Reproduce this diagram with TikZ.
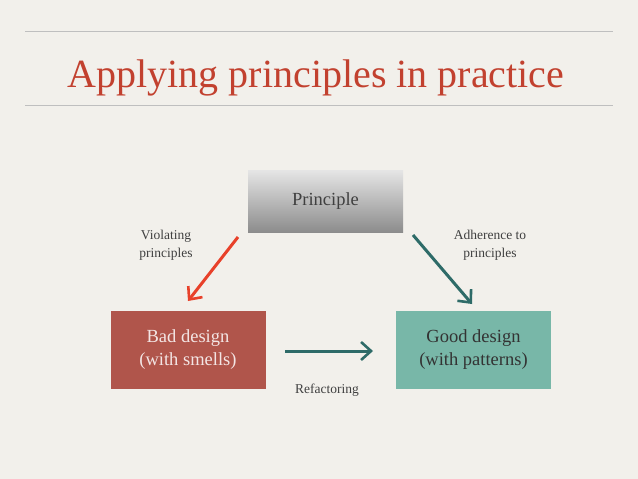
\documentclass[tikz,border=0pt]{standalone}
\usepackage{fontspec}
\setmainfont{Liberation Serif}
\usetikzlibrary{arrows.meta}
\definecolor{bg}{HTML}{F2F0EB}
\definecolor{titlered}{HTML}{C2412F}
\definecolor{badc}{HTML}{B0554B}
\definecolor{goodc}{HTML}{78B7A8}
\definecolor{arrred}{HTML}{E8412A}
\definecolor{arrteal}{HTML}{2E6B68}
\begin{document}
\begin{tikzpicture}[x=1pt,y=-1pt,
  box/.style={minimum width=155pt,minimum height=78pt,inner sep=0,align=center,font=\fontsize{18.5}{23}\selectfont},
  lbl/.style={align=center,text=black!75,font=\fontsize{13.5}{18}\selectfont},
  harrow/.style={line width=3pt,-{Straight Barb[length=10pt,width=18pt,line width=2.6pt]}}]
\fill[bg] (0,0) rectangle (638,479);
\useasboundingbox (0,0) rectangle (638,479);
\draw[black!25,line width=0.6pt] (25,31) -- (613,31);
\draw[black!25,line width=0.6pt] (25,105) -- (613,105);
\node[text=titlered,anchor=base,font=\fontsize{40}{44}\selectfont] (title) at (316,87) {Applying principles in practice};
\shade[top color=black!10,bottom color=black!45] (248,170) rectangle (403,232);
\node[box,minimum height=62pt,text=black!75] (p) at (325.5,201) {Principle};
\node[box,fill=badc,text=white!85!badc] (bad) at (188,350) {Bad design\\(with smells)};
\node[box,fill=goodc,text=black!80] (good) at (473.5,350) {Good design\\(with patterns)};
\coordinate (r1) at (238,237); \coordinate (r2) at (188,301);
\coordinate (t1) at (413,235); \coordinate (t2) at (472,304);
\coordinate (h1) at (285,351); \coordinate (h2) at (373,351);
\draw[harrow,arrred] (r1) -- (r2);
\draw[harrow,arrteal] (t1) -- (t2);
\draw[harrow,arrteal] (h1) -- (h2);
\node[lbl] (l1) at (166,245) {Violating\\principles};
\node[lbl] (l2) at (490,245) {Adherence to\\principles};
\node[lbl] (l3) at (327,390) {Refactoring};
\end{tikzpicture}
\end{document}
